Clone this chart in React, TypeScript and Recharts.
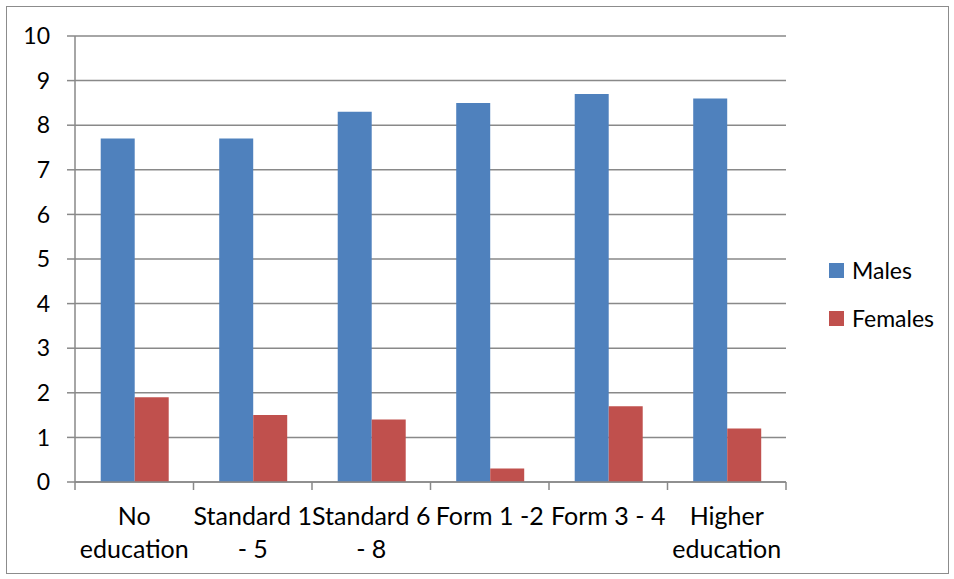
import React from 'react';
import { BarChart, Bar, XAxis, YAxis, CartesianGrid, Legend } from 'recharts';

const categories = [
  ['No', 'education'],
  ['Standard 1', '- 5'],
  ['Standard 6', '- 8'],
  ['Form 1 -2'],
  ['Form 3 - 4'],
  ['Higher', 'education'],
];
const males = [7.7, 7.7, 8.3, 8.5, 8.7, 8.6];
const females = [1.9, 1.5, 1.4, 0.3, 1.7, 1.2];
const yTicks = [0, 1, 2, 3, 4, 5, 6, 7, 8, 9, 10];

const seriesInfo = [
  { key: 'males', name: 'Males', color: '#4F81BD' },
  { key: 'females', name: 'Females', color: '#C0504D' },
];

const data = categories.map((lines, i) => ({
  name: lines.join(' '),
  males: males[i],
  females: females[i],
}));

const FONT = 'Lato, "Open Sans", sans-serif';
const GRID = '#898989';

// label plus Excel-style tick marks between categories
const CategoryTick = (props: any) => {
  const { x, y, index, payload, visibleTicksCount } = props;
  const lines = categories[index] || [];
  const half = payload?.offset || 0;
  const isLast = index === visibleTicksCount - 1;
  return (
    <g>
      <line x1={x - half} x2={x - half} y1={y} y2={y + 8} stroke={GRID} strokeWidth={1.5} />
      {isLast && <line x1={x + half} x2={x + half} y1={y} y2={y + 8} stroke={GRID} strokeWidth={1.5} />}
      <text x={x} y={y} textAnchor="middle" fill="#000" fontSize={25} fontFamily={FONT}>
        {lines.map((l, i) => (
          <tspan key={i} x={x} dy={i === 0 ? 43 : 33}>
            {l}
          </tspan>
        ))}
      </text>
    </g>
  );
};

const LegendBox = () => (
  <div style={{ fontFamily: FONT, fontSize: 23, color: '#000' }}>
    {seriesInfo.map((s) => (
      <div key={s.key} style={{ display: 'flex', alignItems: 'center', height: 48 }}>
        <span style={{ width: 15, height: 15, background: s.color, marginRight: 8, display: 'inline-block' }} />
        <span>{s.name}</span>
      </div>
    ))}
  </div>
);

export default function App() {
  return (
    <div style={{ position: 'absolute', left: 0, top: 0, width: 954, height: 579, background: '#fff' }}>
      <div
        style={{
          position: 'absolute',
          left: 6,
          top: 6,
          width: 941,
          height: 566,
          border: '1.5px solid #8c8c8c',
        }}
      />
      <BarChart
        width={954}
        height={579}
        data={data}
        margin={{ top: 36, right: 168, bottom: 0, left: 0 }}
        barCategoryGap="21.7%"
        barGap={0}
      >
        <CartesianGrid vertical={false} stroke={GRID} strokeWidth={1.5} />
        <XAxis
          dataKey="name"
          interval={0}
          tickLine={false}
          tickSize={0}
          tickMargin={0}
          axisLine={{ stroke: GRID, strokeWidth: 1.5 }}
          tick={<CategoryTick />}
          height={97}
        />
        <YAxis
          domain={[0, 10]}
          ticks={yTicks}
          interval={0}
          width={75}
          tickSize={8}
          tickMargin={17}
          axisLine={{ stroke: GRID, strokeWidth: 1.5 }}
          tickLine={{ stroke: GRID, strokeWidth: 1.5 }}
          tick={{ fill: '#000', fontSize: 23, fontFamily: FONT }}
        />
        {seriesInfo.map((s) => (
          <Bar key={s.key} dataKey={s.key} name={s.name} fill={s.color} isAnimationActive={false} />
        ))}
        <Legend
          layout="horizontal"
          verticalAlign="middle"
          align="center"
          content={<LegendBox />}
          wrapperStyle={{ left: 829, top: 246, width: 120 }}
        />
      </BarChart>
    </div>
  );
}
